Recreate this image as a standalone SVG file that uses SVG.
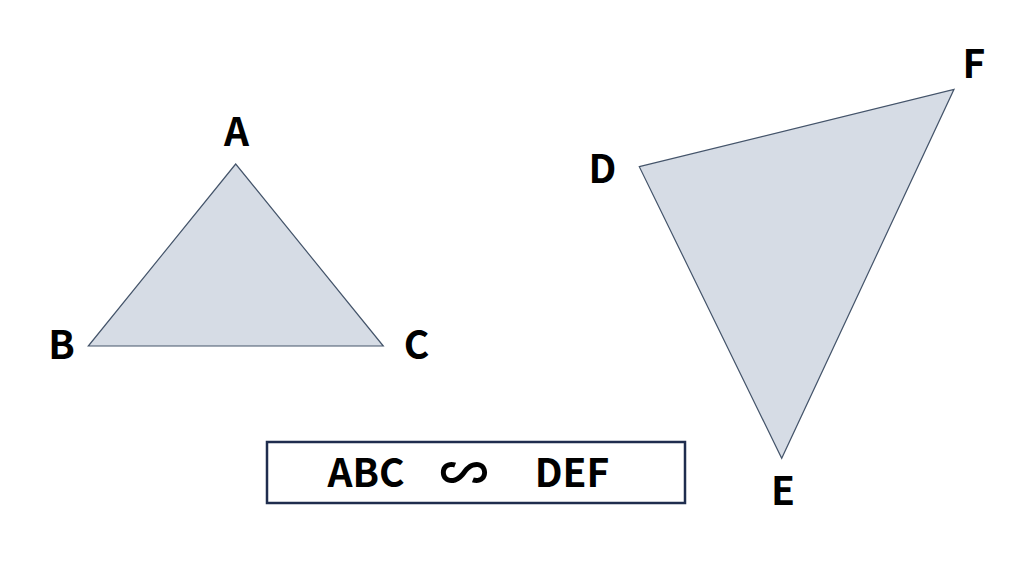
<svg xmlns="http://www.w3.org/2000/svg" width="1024" height="576" viewBox="0 0 1024 576">
  <style>
    .tri { fill: #d6dce5; stroke: #44546a; stroke-width: 1.2; stroke-linejoin: miter; }
    .lbl { font-family: "Noto Sans CJK JP", "Noto Sans", "Liberation Sans", sans-serif; font-weight: bold; font-size: 39px; fill: #000000; text-anchor: middle; }
    .sim { font-size: 49px; }
    .box { fill: #ffffff; stroke: #1f2d4e; stroke-width: 2.5; }
  </style>
  <rect width="1024" height="576" fill="#ffffff"/>
  <g id="triangle-abc">
    <polygon class="tri" points="235.7,164 88.3,346 383.3,346"/>
    <text class="lbl" x="236.5" y="146">A</text>
    <text class="lbl" x="61.5" y="359">B</text>
    <text class="lbl" x="416.5" y="359">C</text>
  </g>
  <g id="triangle-def">
    <polygon class="tri" points="639.3,166.7 954,89.3 781.7,458.3"/>
    <text class="lbl" x="602.5" y="183">D</text>
    <text class="lbl" x="974" y="78">F</text>
    <text class="lbl" x="783" y="505">E</text>
  </g>
  <g id="similarity-box">
    <rect class="box" x="267" y="442" width="418" height="61"/>
    <text class="lbl" x="366" y="487">ABC</text>
    <text class="lbl sim" x="464" y="490.5">∽</text>
    <text class="lbl" x="572" y="487">DEF</text>
  </g>
  <g id="connectors"></g>
</svg>
